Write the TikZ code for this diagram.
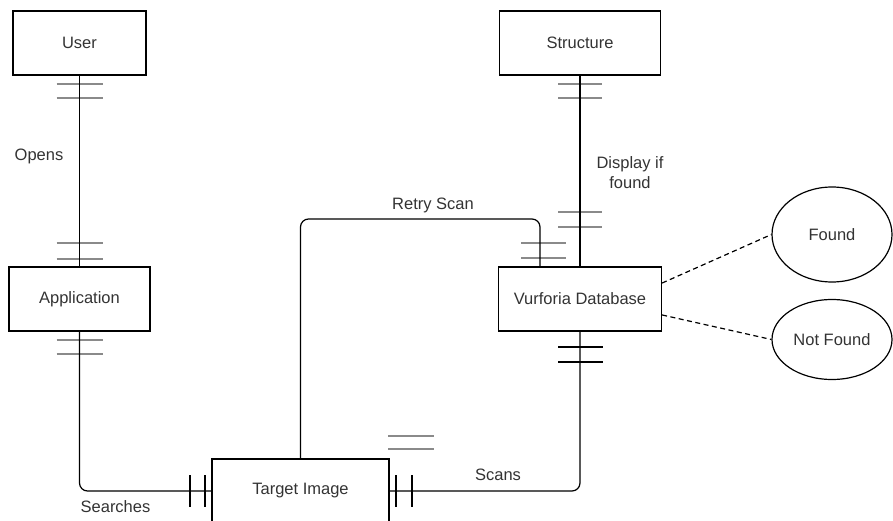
\documentclass[tikz,border=0pt]{standalone}
\usepackage{fontspec}
\setmainfont{Liberation Sans}
\usetikzlibrary{shapes.geometric}
\definecolor{txtgray}{HTML}{333333}
\definecolor{bargray}{HTML}{8A8A8A}

\begin{document}
\begin{tikzpicture}[x=1pt,y=-1pt,line width=1.2pt,font=\fontsize{16.5}{20}\selectfont,
    entity/.style={draw,rectangle,minimum height=64pt,inner sep=0pt,text=txtgray},
    attr/.style={draw,ellipse,minimum width=120pt,inner sep=0pt,text=txtgray},
    lbl/.style={text=txtgray,inner sep=0pt,align=center},
    greybar/.style={bargray,line width=1.6pt},
    blackbar/.style={black,line width=1.2pt}]
        \useasboundingbox (0,0) rectangle (893,521);
        \def\ux{79.5}
        \def\sx{580}

        \node[entity,minimum width=133pt] (user) at (\ux,43) {User};
        \node[entity,minimum width=141pt] (app) at (\ux,299) {Application};
        \node[entity,minimum width=161pt] (structure) at (\sx,43) {Structure};
        \node[entity,minimum width=163pt] (vuforia) at (\sx,299) {Vurforia Database};
        \node[entity,minimum width=177pt] (target) at (300.5,491) {Target Image};
        \node[attr,minimum height=95pt] (found) at (832,234.5) {Found};
        \node[attr,minimum height=80pt] (notfound) at (832,339.5) {Not Found};

        \foreach \y in {84,98,243,259,340,354} \draw[greybar] (\ux-23,\y)--(\ux+23,\y);
        \foreach \y in {84,98,212,227} \draw[greybar] (\sx-22,\y)--(\sx+22,\y);
        \foreach \y in {243,258} \draw[greybar] (521,\y)--(566,\y);
        \foreach \y in {436,449} \draw[greybar] (388,\y)--(434,\y);
        \foreach \y in {347,362} \draw[blackbar] (\sx-22,\y)--(\sx+23,\y);
        \foreach \x in {190,205,396,412} \draw[blackbar] (\x,475)--(\x,507);

        \coordinate (retry) at (540,219);
        \draw (user.south)--(app.north);
        \draw (structure.south)--(vuforia.north);
        \draw[rounded corners=8pt] (app.south) |- (target.west);
        \draw[rounded corners=8pt] (target.east) -| (vuforia.south);
        \draw[rounded corners=8pt] (target.north) |- (retry) -- (retry |- vuforia.north);
        \draw[dash pattern=on 5pt off 3.5pt] (vuforia.11)--(found.west);
        \draw[dash pattern=on 5pt off 3.5pt] (vuforia.-11)--(notfound.west);

        \node[lbl] (opens) at (39,156) {Opens};
        \node[lbl] (searches) at (115.5,507) {Searches};
        \node[lbl] (scans) at (498,475) {Scans};
        \node[lbl] (retryscan) at (433,205) {Retry Scan};
        \node[lbl] (display) at (630,172.5) {Display if\\found};
\end{tikzpicture}
\end{document}
